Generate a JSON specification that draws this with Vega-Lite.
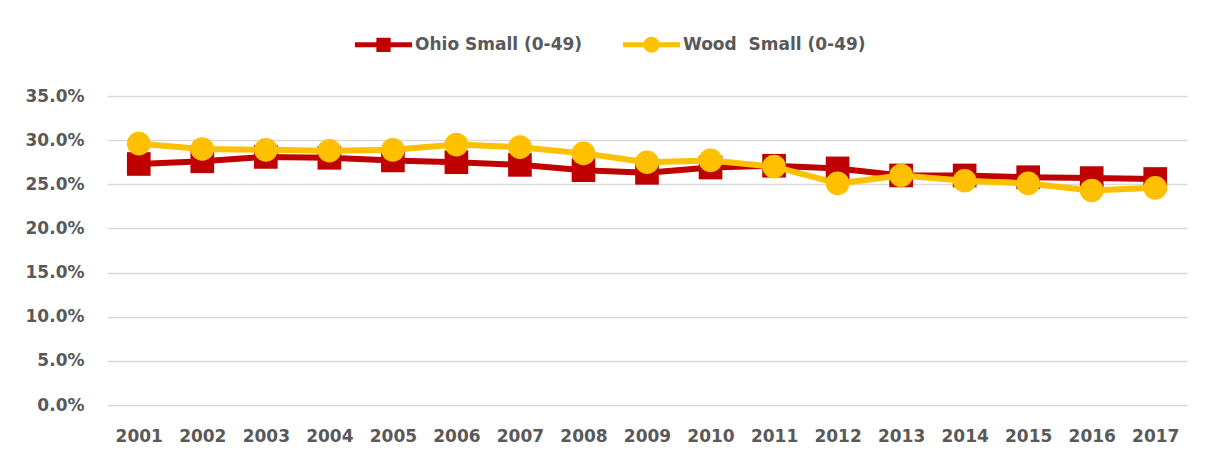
{
  "$schema": "https://vega.github.io/schema/vega-lite/v6.json",
  "autosize": "none",
  "width": 1080,
  "height": 309,
  "padding": {"left": 107, "top": 96, "right": 20, "bottom": 56},
  "background": "white",
  "config": {
    "view": {"stroke": null},
    "font": "DejaVu Sans"
  },
  "data": {
    "values": [
      {"year": "2001", "series": "Ohio Small (0-49)", "value": 0.273},
      {"year": "2002", "series": "Ohio Small (0-49)", "value": 0.276},
      {"year": "2003", "series": "Ohio Small (0-49)", "value": 0.281},
      {"year": "2004", "series": "Ohio Small (0-49)", "value": 0.280},
      {"year": "2005", "series": "Ohio Small (0-49)", "value": 0.277},
      {"year": "2006", "series": "Ohio Small (0-49)", "value": 0.275},
      {"year": "2007", "series": "Ohio Small (0-49)", "value": 0.272},
      {"year": "2008", "series": "Ohio Small (0-49)", "value": 0.266},
      {"year": "2009", "series": "Ohio Small (0-49)", "value": 0.263},
      {"year": "2010", "series": "Ohio Small (0-49)", "value": 0.269},
      {"year": "2011", "series": "Ohio Small (0-49)", "value": 0.271},
      {"year": "2012", "series": "Ohio Small (0-49)", "value": 0.268},
      {"year": "2013", "series": "Ohio Small (0-49)", "value": 0.260},
      {"year": "2014", "series": "Ohio Small (0-49)", "value": 0.260},
      {"year": "2015", "series": "Ohio Small (0-49)", "value": 0.258},
      {"year": "2016", "series": "Ohio Small (0-49)", "value": 0.257},
      {"year": "2017", "series": "Ohio Small (0-49)", "value": 0.256},
      {"year": "2001", "series": "Wood  Small (0-49)", "value": 0.296},
      {"year": "2002", "series": "Wood  Small (0-49)", "value": 0.290},
      {"year": "2003", "series": "Wood  Small (0-49)", "value": 0.289},
      {"year": "2004", "series": "Wood  Small (0-49)", "value": 0.288},
      {"year": "2005", "series": "Wood  Small (0-49)", "value": 0.289},
      {"year": "2006", "series": "Wood  Small (0-49)", "value": 0.295},
      {"year": "2007", "series": "Wood  Small (0-49)", "value": 0.292},
      {"year": "2008", "series": "Wood  Small (0-49)", "value": 0.285},
      {"year": "2009", "series": "Wood  Small (0-49)", "value": 0.275},
      {"year": "2010", "series": "Wood  Small (0-49)", "value": 0.277},
      {"year": "2011", "series": "Wood  Small (0-49)", "value": 0.270},
      {"year": "2012", "series": "Wood  Small (0-49)", "value": 0.251},
      {"year": "2013", "series": "Wood  Small (0-49)", "value": 0.260},
      {"year": "2014", "series": "Wood  Small (0-49)", "value": 0.254},
      {"year": "2015", "series": "Wood  Small (0-49)", "value": 0.251},
      {"year": "2016", "series": "Wood  Small (0-49)", "value": 0.243},
      {"year": "2017", "series": "Wood  Small (0-49)", "value": 0.246}
    ]
  },
  "encoding": {
    "x": {
      "field": "year", "type": "ordinal",
      "scale": {"type": "point", "padding": 0.5},
      "axis": {
        "title": null, "labelAngle": 0, "domain": false, "ticks": false,
        "labelFont": "DejaVu Sans", "labelFontSize": 17, "labelFontWeight": "bold",
        "labelColor": "#595959", "labelPadding": 23
      }
    },
    "y": {
      "field": "value", "type": "quantitative",
      "scale": {"domain": [0, 0.35], "nice": false},
      "axis": {
        "title": null, "format": ".1%", "values": [0, 0.05, 0.1, 0.15, 0.2, 0.25, 0.3, 0.35],
        "domain": false, "ticks": false, "gridColor": "#D9D9D9", "gridWidth": 1.5,
        "labelFont": "DejaVu Sans", "labelFontSize": 17, "labelFontWeight": "bold",
        "labelColor": "#595959", "labelPadding": 23
      }
    },
    "color": {
      "field": "series", "type": "nominal",
      "scale": {"domain": ["Ohio Small (0-49)", "Wood  Small (0-49)"], "range": ["#C00000", "#FFC000"]},
      "legend": {
        "title": null, "orient": "none", "direction": "horizontal",
        "legendX": 248, "legendY": -80,
        "symbolSize": 3249, "symbolStrokeWidth": 0, "symbolOpacity": 1,
        "labelFont": "DejaVu Sans", "labelFontSize": 17, "labelFontWeight": "bold",
        "labelColor": "#595959", "labelOffset": 3, "columnPadding": 40,
        "labelLimit": 400,
        "labelExpr": "replace(datum.label, '  ', '\u00a0 ')",
        "encode": {
          "symbols": {
            "update": {
              "shape": {"signal": "datum.value === 'Ohio Small (0-49)' ? 'M-1,-0.09H1V0.09H-1Z M-0.25,-0.25H0.25V0.25H-0.25Z' : 'M-1,-0.09H1V0.09H-1Z M0.28,0A0.28,0.28 0 1,1 -0.28,0A0.28,0.28 0 1,1 0.28,0Z'"},
              "fill": {"signal": "datum.value === 'Ohio Small (0-49)' ? '#C00000' : '#FFC000'"},
              "fillOpacity": {"value": 1},
              "strokeWidth": {"value": 0}
            }
          }
        }
      }
    }
  },
  "layer": [
    {
      "transform": [{"filter": "datum.series === 'Ohio Small (0-49)'"}],
      "mark": {"type": "line", "strokeWidth": 6, "strokeCap": "round", "strokeJoin": "round"}
    },
    {
      "transform": [{"filter": "datum.series === 'Ohio Small (0-49)'"}],
      "mark": {"type": "point", "shape": "square", "filled": true, "size": 560, "opacity": 1}
    },
    {
      "transform": [{"filter": "datum.series === 'Wood  Small (0-49)'"}],
      "mark": {"type": "line", "strokeWidth": 6, "strokeCap": "round", "strokeJoin": "round"}
    },
    {
      "transform": [{"filter": "datum.series === 'Wood  Small (0-49)'"}],
      "mark": {"type": "point", "shape": "circle", "filled": true, "size": 560, "opacity": 1}
    }
  ]
}
